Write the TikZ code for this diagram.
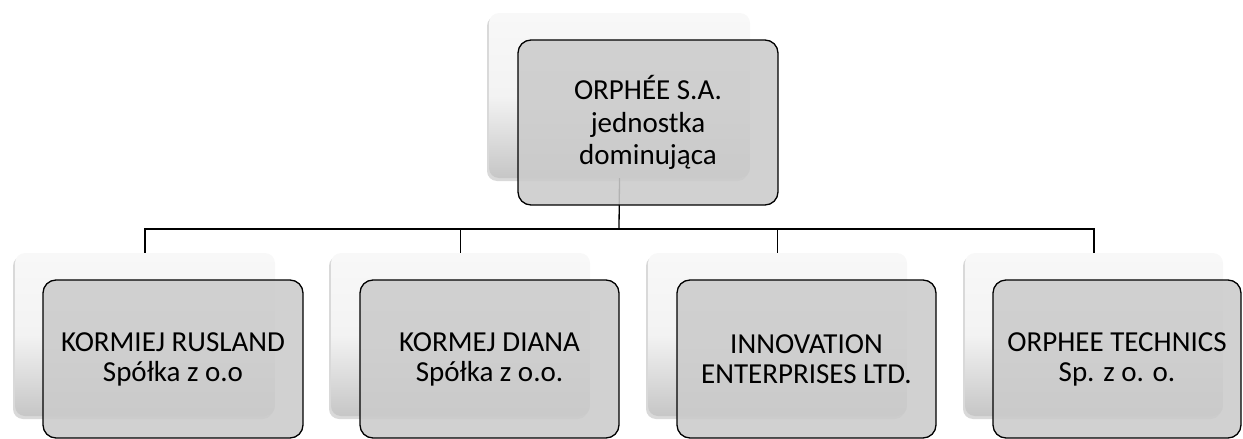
\documentclass[tikz,border=0pt]{standalone}
\usepackage{fontspec}
\setmainfont{Carlito}
\usetikzlibrary{shadows}
\definecolor{frontfill}{HTML}{CBCBCB}
\definecolor{backtop}{HTML}{F8F8F8}
\definecolor{backbot}{HTML}{C6C6C6}
\tikzset{
  backbox/.style={rectangle, rounded corners=10pt, inner sep=0pt,
    top color=backtop, bottom color=backbot, middle color=backtop!90!backbot,
    drop shadow={shadow xshift=-2pt, shadow yshift=-3pt, opacity=0.25, fill=black!60}},
  frontbox/.style={rectangle, rounded corners=13pt, inner sep=0pt, draw=black,
    line width=1.3pt, fill=frontfill, fill opacity=0.88, text opacity=1,
    align=center, font=\fontsize{29pt}{30pt}\selectfont},
  link/.style={draw=black, line width=1.3pt}
}
\begin{document}
\begin{tikzpicture}[x=1pt,y=-1pt]
\useasboundingbox (0,0) rectangle (1243,439);
% top
\node[backbox, minimum width=261pt, minimum height=165pt] (topback) at (619.5,95.5) {};
\coordinate (bus) at (619,229);
% children back boxes
\node[backbox, minimum width=260pt, minimum height=163pt] (b1) at (145,334.5) {};
\node[backbox, minimum width=259pt, minimum height=163pt] (b2) at (460.5,334.5) {};
\node[backbox, minimum width=259pt, minimum height=163pt] (b3) at (777.5,334.5) {};
\node[backbox, minimum width=258pt, minimum height=163pt] (b4) at (1094,334.5) {};
% connectors
\draw[link] (topback.south) -- (bus);
\draw[link] (b1.north) |- (bus);
\draw[link] (b2.north) |- (bus);
\draw[link] (b3.north) |- (bus);
\draw[link] (b4.north) |- (bus);
% front boxes
\node[frontbox, minimum width=260pt, minimum height=165pt,
  font=\fontsize{29pt}{32.5pt}\selectfont] (top) at (648,122.5)
  {ORPHÉE S.A.\\jednostka\\dominująca};
\node[frontbox, minimum width=260pt, minimum height=158pt] (c1) at (173,359)
  {KORMIEJ RUSLAND\\Spółka z o.o};
\node[frontbox, minimum width=259pt, minimum height=158pt] (c2) at (489.5,359)
  {KORMEJ DIANA\\Spółka z o.o.};
\node[frontbox, minimum width=259pt, minimum height=158pt] (c3) at (806.5,359)
  {INNOVATION\\ENTERPRISES LTD.};
\node[frontbox, minimum width=248pt, minimum height=158pt] (c4) at (1117,359)
  {ORPHEE TECHNICS\\Sp. z o. o.};
\end{tikzpicture}
\end{document}
